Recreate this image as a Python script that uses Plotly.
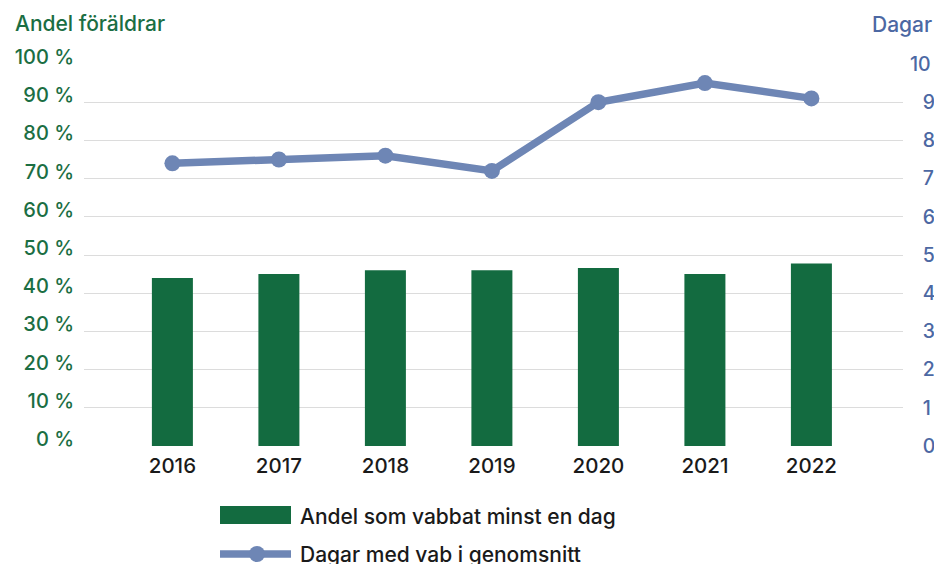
import plotly.graph_objects as go

years = ["2016", "2017", "2018", "2019", "2020", "2021", "2022"]
andel_vabbat = [44, 45, 46, 46, 46.6, 45, 47.8]          # procent
dagar_vab = [7.4, 7.5, 7.6, 7.2, 9.0, 9.5, 9.1]           # dagar
left_ticks = [0, 10, 20, 30, 40, 50, 60, 70, 80, 90, 100]
left_tick_text = [f"{v} %" for v in left_ticks]
right_ticks = list(range(0, 11))
right_tick_text = [("\u2007" + str(v)) if v < 10 else str(v) for v in right_ticks]
bar_name = "Andel som vabbat minst en dag"
line_name = "Dagar med vab i genomsnitt"

GREEN = "#136b40"
GREEN_TXT = "#1b6e43"
BLUE = "#6e86b5"
BLUE_TXT = "#4c68a3"
FONT = "Inter, Liberation Sans, Arial, sans-serif"
WT = 500

W, H = 934, 564
L, R, T, B = 84, 903, 64, 446


def px(x):
    return (x - L) / (R - L)


def py(y):
    return (B - y) / (B - T)


fig = go.Figure()
fig.add_trace(go.Bar(x=years, y=andel_vabbat, name=bar_name, marker=dict(color=GREEN, line=dict(width=0)),
                     width=0.385, yaxis="y", showlegend=False))
fig.add_trace(go.Scatter(x=years, y=dagar_vab, name=line_name, mode="lines+markers",
                         line=dict(color=BLUE, width=7.5), marker=dict(color=BLUE, size=16),
                         yaxis="y2", showlegend=False))

fig.update_layout(
    width=W, height=H,
    margin=dict(l=L, r=W - R, t=T, b=H - B, pad=0, autoexpand=False),
    paper_bgcolor="white", plot_bgcolor="white",
    font=dict(family=FONT, size=20, color="#1a1a1a", weight=WT),
    xaxis=dict(type="category", range=[-0.83, 6.86], showgrid=False, showline=False, zeroline=False,
               automargin=False, ticks="", tickfont=dict(size=20.5, color="#1a1a1a", weight=WT),
               ticklabelstandoff=5),
    yaxis=dict(range=[0, 100], tickvals=left_ticks, ticktext=left_tick_text, showgrid=True,
               gridcolor="#dcdcdc", gridwidth=1, zeroline=False, showline=False, ticks="", automargin=False,
               tickfont=dict(size=20, color=GREEN_TXT, weight=WT), ticklabelstandoff=9, ticklabelshift=-7),
    yaxis2=dict(range=[0, 10], tickvals=right_ticks, ticktext=right_tick_text, overlaying="y", side="right",
                showgrid=False, zeroline=False, showline=False, ticks="", automargin=False,
                tickfont=dict(size=19.5, color=BLUE_TXT, weight=WT), ticklabelstandoff=6),
    showlegend=False,
)

# Axis titles
fig.add_annotation(text="Andel föräldrar", x=px(13), y=py(24), xref="paper", yref="paper",
                   xanchor="left", yanchor="middle", showarrow=False,
                   font=dict(size=21, color=GREEN_TXT, family=FONT, weight=WT))
fig.add_annotation(text="Dagar", x=px(934), y=py(25), xref="paper", yref="paper",
                   xanchor="right", yanchor="middle", showarrow=False,
                   font=dict(size=21, color=BLUE_TXT, family=FONT, weight=WT))

# Custom legend
fig.add_shape(type="rect", xref="paper", yref="paper", x0=px(220), x1=px(291), y0=py(506), y1=py(524),
              fillcolor=GREEN, line=dict(width=0))
fig.add_annotation(text=bar_name, x=px(298), y=py(516), xref="paper", yref="paper",
                   xanchor="left", yanchor="middle", showarrow=False,
                   font=dict(size=21, color="#1a1a1a", family=FONT, weight=WT))
fig.add_shape(type="line", xref="paper", yref="paper", x0=px(220), x1=px(291), y0=py(554), y1=py(554),
              line=dict(color=BLUE, width=7.5))
fig.add_shape(type="circle", xref="paper", yref="paper", x0=px(249), x1=px(265), y0=py(546), y1=py(562),
              fillcolor=BLUE, line=dict(width=0))
fig.add_annotation(text=line_name, x=px(298), y=py(554), xref="paper", yref="paper",
                   xanchor="left", yanchor="middle", showarrow=False,
                   font=dict(size=21, color="#1a1a1a", family=FONT, weight=WT))

fig.write_html("out.html", config={"displayModeBar": False},
               post_script="document.body.style.margin='0';document.body.style.overflow='hidden';")
